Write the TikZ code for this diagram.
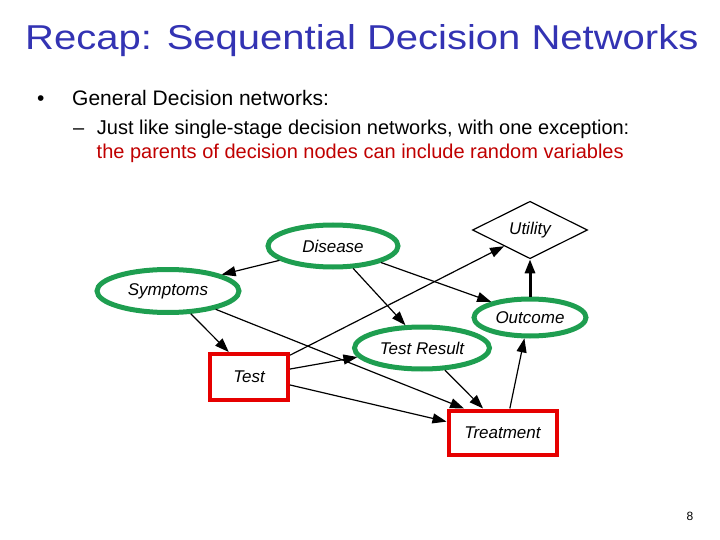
\documentclass[tikz,border=0pt]{standalone}
\usepackage{fontspec}
\setmainfont{Liberation Sans}
\newfontfamily\titlefont[FakeStretch=1.16]{Liberation Sans}
\usepackage{xcolor}
\usepackage{tikz}
\usetikzlibrary{arrows.meta,positioning,shapes.geometric}
\definecolor{ttlblue}{HTML}{3333B3}
\definecolor{exred}{HTML}{C00000}
\definecolor{chgreen}{HTML}{1E9E50}
\definecolor{dcred}{HTML}{E60000}
\newcommand{\nodefont}{\fontsize{17}{17}\selectfont\itshape}

\begin{document}
\begin{tikzpicture}[x=1pt,y=-1pt,
    chance/.style={ellipse,draw=chgreen,line width=5pt,inner sep=0pt,font=\nodefont},
    decide/.style={rectangle,draw=dcred,line width=4pt,inner sep=0pt,font=\nodefont},
    utilnode/.style={diamond,draw,line width=1.2pt,inner sep=0pt,font=\nodefont},
    link/.style={-{Triangle[length=14pt,width=10pt]},line width=1.2pt}]
  \useasboundingbox (0,0) rectangle (720,540);

  % slide text
  \node[anchor=base west,inner sep=0pt,text=ttlblue] (title) at (25,50)
    {\titlefont\fontsize{34.5}{34.5}\selectfont Recap: Sequential Decision Networks};
  \node[anchor=base west,inner sep=0pt] (bul) at (37,105.5) {\fontsize{21}{21}\selectfont\textbullet};
  \node[anchor=base west,inner sep=0pt] (gen) at (72,105.5)
    {\fontsize{21}{21}\selectfont General Decision networks:};
  \node[anchor=base west,inner sep=0pt] (dash) at (73,134.3) {\fontsize{20}{20}\selectfont –};
  \node[anchor=base west,inner sep=0pt] (sub1) at (96.7,134.3)
    {\fontsize{20}{20}\selectfont Just like single-stage decision networks, with one exception:};
  \node[anchor=base west,inner sep=0pt,text=exred] (sub2) at (96.5,158.3)
    {\fontsize{20}{20}\selectfont the parents of decision nodes can include random variables};
  \node[anchor=base,inner sep=0pt] (pg) at (690,520) {\fontsize{12}{12}\selectfont 8};

  % network
  \node[chance,minimum width=130pt,minimum height=42pt] (dis) at (333,246) {Disease};
  \node[chance,minimum width=142pt,minimum height=43pt] (sym) at (168,291) {Symptoms};
  \node[chance,minimum width=135pt,minimum height=42pt] (tres) at (422,348) {Test Result};
  \node[chance,minimum width=112pt,minimum height=37pt] (outc) at (530,317.5) {Outcome};
  \node[utilnode,minimum width=115pt,minimum height=46pt] (util) at (530,230) {Utility};
  \node[decide,minimum width=78pt,minimum height=46pt] (test) at (249,377) {Test};
  \node[decide,minimum width=108pt,minimum height=44pt] (treat) at (502.5,432.5) {Treatment};

  \draw[link] (dis.195) -- (sym.17);
  \draw[link] (dis.312) -- (tres.126);
  \draw[link] (dis.341) -- (outc.158);
  \draw[link] (sym.315) -- (test.129);
  \draw[link] (sym.339) -- (treat.148);
  \draw[link] (test.28) -- (util.212);
  \draw[link] (test.11) -- (tres.188);
  \draw[link] (test.349) -- (treat.169);
  \draw[link] (tres.316) -- (treat.129);
  \draw[link] (treat.73) -- (outc.255);
  \draw[link,line width=3pt] (outc) -- (util);
\end{tikzpicture}
\end{document}
